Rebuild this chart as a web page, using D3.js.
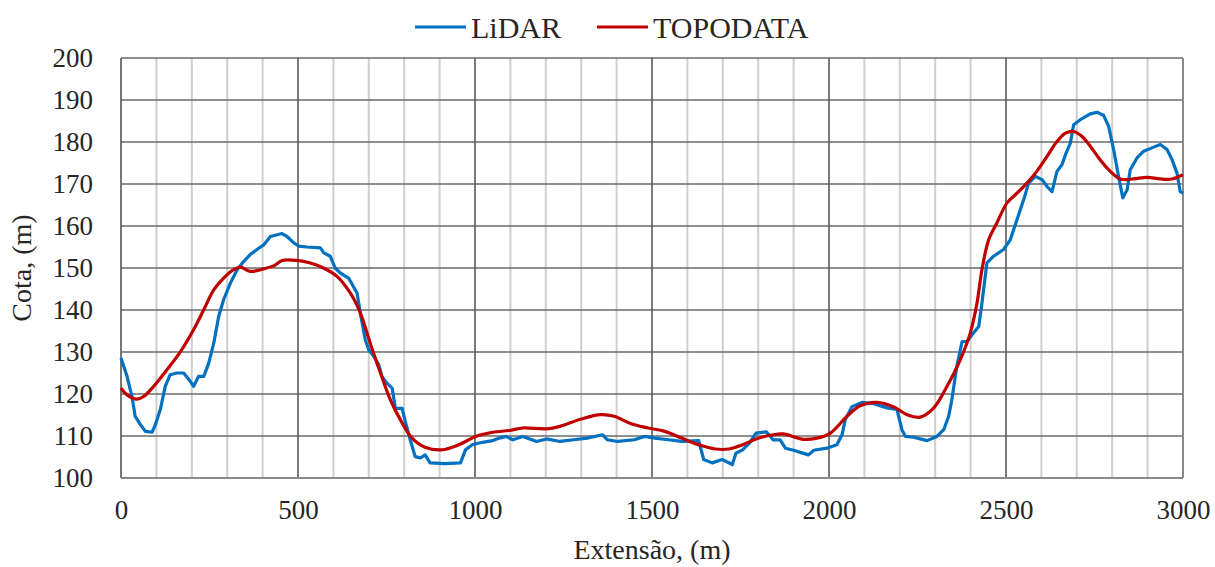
<!DOCTYPE html>
<html>
<head>
<meta charset="utf-8">
<script src="https://cdn.jsdelivr.net/npm/d3@7"></script>
<style>
  body { margin: 0; background: #fff; }
  text { font-family: "Liberation Serif", "Times New Roman", serif; fill: #262626; }
</style>
</head>
<body>
<div id="chart"></div>
<script>
// LiDAR profile, distance (m)
const lidarX = [0, 17, 31, 40, 55, 69, 88, 97, 111, 125, 139, 158, 177, 196, 205, 219, 234, 248, 262, 276,
  290, 309, 328, 347, 365, 384, 403, 422, 455, 469, 488, 502, 525, 563, 573, 591, 605, 620, 643, 667,
  676, 690, 700, 714, 728, 737, 751, 766, 775, 794, 803, 817, 831, 846, 859, 873, 916, 959, 973, 992,
  1021, 1050, 1069, 1088, 1107, 1135, 1174, 1202, 1240, 1279, 1317, 1360, 1374, 1403, 1450, 1479, 1508, 1546, 1584, 1632,
  1646, 1670, 1698, 1727, 1737, 1756, 1775, 1794, 1823, 1842, 1862, 1877, 1900, 1919, 1942, 1957, 1994, 2022, 2037, 2046,
  2065, 2093, 2126, 2164, 2192, 2206, 2216, 2239, 2277, 2305, 2324, 2338, 2347, 2361, 2376, 2390, 2404, 2423, 2432, 2446,
  2465, 2493, 2512, 2531, 2550, 2564, 2583, 2602, 2616, 2630, 2644, 2658, 2668, 2682, 2691, 2710, 2738, 2757, 2776, 2790,
  2804, 2818, 2830, 2842, 2851, 2870, 2889, 2912, 2936, 2955, 2969, 2983, 2992, 3000];
// LiDAR elevation (m)
const lidarY = [128.6, 124.2, 119.4, 114.7, 112.7, 111.1, 110.9, 112.7, 116.3, 121.8, 124.6, 125, 125, 123, 121.8, 124.2, 124.2, 127.4, 132.1, 138.5,
  142.5, 146.4, 149.6, 151.6, 153.2, 154.4, 155.5, 157.5, 158.2, 157.5, 156, 155.2, 155, 154.8, 153.6, 152.8, 150, 148.8, 147.6, 144,
  139.3, 132.9, 130.5, 129, 127, 124.2, 122.6, 121.4, 116.6, 116.6, 113.5, 109.1, 105.1, 104.8, 105.5, 103.6, 103.4, 103.6, 106.7, 107.9,
  108.5, 108.9, 109.5, 109.9, 109.1, 109.9, 108.7, 109.3, 108.7, 109.1, 109.5, 110.3, 109.1, 108.7, 109.1, 109.9, 109.5, 109.1, 108.7, 108.9,
  104.4, 103.6, 104.4, 103.2, 105.9, 106.7, 108.3, 110.7, 111, 109.1, 109.1, 107.1, 106.6, 106.1, 105.5, 106.6, 107.1, 107.9, 110.3, 113.9,
  117, 118, 117.7, 116.7, 116.3, 111.5, 109.9, 109.7, 108.9, 109.9, 111.5, 114.7, 118.6, 126.6, 132.5, 132.5, 134.1, 136.1, 141.6, 151.2,
  152.8, 154.4, 156.7, 161.5, 166.3, 170.2, 171.8, 171, 169.4, 168.2, 173, 174.6, 177, 179.8, 184.1, 185.3, 186.7, 187.1, 186.3, 183.7,
  178.2, 171.8, 166.7, 168.6, 173.4, 176.2, 177.8, 178.6, 179.4, 178.2, 175.8, 172.6, 168.2, 167.8];

// TOPODATA profile, distance (m)
const topoX = [0, 17, 45, 64, 92, 130, 168, 205, 234, 262, 290, 318, 337, 365, 403, 431, 455, 497, 535, 572,
  610, 648, 676, 704, 733, 761, 789, 821, 859, 906, 954, 1002, 1050, 1097, 1135, 1202, 1240, 1298, 1355, 1393,
  1441, 1489, 1536, 1584, 1632, 1679, 1717, 1756, 1794, 1842, 1870, 1928, 1966, 2004, 2051, 2088, 2136, 2183, 2220, 2258,
  2296, 2333, 2371, 2399, 2418, 2432, 2451, 2474, 2503, 2531, 2559, 2587, 2616, 2644, 2668, 2691, 2715, 2738, 2762, 2790,
  2823, 2860, 2898, 2936, 2969, 3000];
// TOPODATA elevation (m)
const topoY = [121.4, 119.8, 118.8, 119.4, 121.8, 125.8, 130.1, 135.3, 140.1, 144.8, 147.6, 149.6, 150.2, 149.2, 149.8, 150.5, 151.8, 151.8, 151.2, 150,
  148, 144, 139.3, 132.1, 125, 118.6, 113.9, 109.6, 107.3, 106.7, 107.9, 109.9, 110.9, 111.3, 111.9, 111.7, 112.3, 114, 115.1, 114.7,
  112.9, 111.9, 111.1, 109.5, 107.9, 106.9, 106.9, 107.9, 109.3, 110.3, 110.5, 109.2, 109.5, 110.7, 114.7, 117.2, 118, 116.9, 115.1, 114.5,
  116.7, 121.8, 128.2, 134.5, 141.6, 149.6, 156.7, 160.7, 165.5, 167.8, 170.2, 173, 176.6, 180.1, 182.1, 182.5, 181.3, 179, 176.2, 173.4,
  171.2, 171.2, 171.6, 171.2, 171.2, 172.2];

const xTicks = [0, 500, 1000, 1500, 2000, 2500, 3000];
const yTicks = [100, 110, 120, 130, 140, 150, 160, 170, 180, 190, 200];
const seriesNames = ["LiDAR", "TOPODATA"];

const blue = "#0070C0";
const red = "#C00000";

const W = 1215, H = 567;
const margin = { top: 58, left: 121, right: 32, bottom: 89 };
const width = W - margin.left - margin.right,
  height = H - margin.top - margin.bottom;

const svg = d3.select("#chart").append("svg").attr("width", W).attr("height", H);
const g = svg.append("g").attr("transform", `translate(${margin.left},${margin.top})`);

const xScale = d3.scaleLinear().domain([0, 3000]).range([0, width]);
const yScale = d3.scaleLinear().domain([100, 200]).range([height, 0]);

// grid: minor verticals every 100 m
g.append("g")
  .selectAll("line")
  .data(d3.range(100, 3000, 100).filter((d) => d % 500 !== 0))
  .join("line")
  .attr("x1", (d) => xScale(d))
  .attr("x2", (d) => xScale(d))
  .attr("y1", 0)
  .attr("y2", height)
  .attr("stroke", "#cfcfcf")
  .attr("stroke-width", 2);

// horizontal lines
g.append("g")
  .selectAll("line")
  .data(yTicks)
  .join("line")
  .attr("x1", 0)
  .attr("x2", width)
  .attr("y1", (d) => yScale(d))
  .attr("y2", (d) => yScale(d))
  .attr("stroke", "#6a6a6a")
  .attr("stroke-width", 1.6);

// major verticals
g.append("g")
  .selectAll("line")
  .data([500, 1000, 1500, 2000, 2500])
  .join("line")
  .attr("x1", (d) => xScale(d))
  .attr("x2", (d) => xScale(d))
  .attr("y1", 0)
  .attr("y2", height)
  .attr("stroke", "#5a5a5a")
  .attr("stroke-width", 1.6);

// frame
g.append("line").attr("x1", 0).attr("x2", 0).attr("y1", 0).attr("y2", height)
  .attr("stroke", "#555").attr("stroke-width", 1.6);
g.append("line").attr("x1", width).attr("x2", width).attr("y1", 0).attr("y2", height)
  .attr("stroke", "#8a8a8a").attr("stroke-width", 2);
g.append("line").attr("x1", 0).attr("x2", width).attr("y1", height).attr("y2", height)
  .attr("stroke", "#8a8a8a").attr("stroke-width", 2);

// axes (labels only)
const yAxis = d3.axisLeft(yScale).tickValues(yTicks).tickSize(0).tickPadding(28).tickFormat(d3.format("d"));
const xAxis = d3.axisBottom(xScale).tickValues(xTicks).tickSize(0).tickPadding(22).tickFormat(d3.format("d"));

const drawnY = g.append("g").attr("font-family", null).call(yAxis);
drawnY.select(".domain").remove();
drawnY.selectAll("text").attr("font-size", 27).style("font-family", "'Liberation Serif', serif").attr("fill", "#262626");

const drawnX = g.append("g").attr("transform", `translate(0,${height})`).call(xAxis);
drawnX.select(".domain").remove();
drawnX.selectAll("text").attr("font-size", 27).style("font-family", "'Liberation Serif', serif").attr("fill", "#262626");

// axis titles
svg.append("text")
  .attr("transform", `translate(31, ${margin.top + height / 2}) rotate(-90)`)
  .attr("text-anchor", "middle")
  .attr("font-size", 28)
  .text("Cota, (m)");

svg.append("text")
  .attr("x", 652)
  .attr("y", 559)
  .attr("text-anchor", "middle")
  .attr("font-size", 28)
  .text("Extensão, (m)");

// lines
const lidarData = lidarX.map((x, i) => ({ x, y: lidarY[i] }));
const topoData = topoX.map((x, i) => ({ x, y: topoY[i] }));

const lidarLine = d3.line().x((d) => xScale(d.x)).y((d) => yScale(d.y));
const topoLine = d3.line().x((d) => xScale(d.x)).y((d) => yScale(d.y)).curve(d3.curveCatmullRom.alpha(0.5));

g.append("path").datum(lidarData).attr("d", lidarLine)
  .attr("fill", "none").attr("stroke", blue).attr("stroke-width", 3.2).attr("stroke-linejoin", "round");
g.append("path").datum(topoData).attr("d", topoLine)
  .attr("fill", "none").attr("stroke", red).attr("stroke-width", 3.2).attr("stroke-linejoin", "round");

// legend
const legend = svg.append("g");
const legendItems = [
  { name: seriesNames[0], color: blue, x: 415 },
  { name: seriesNames[1], color: red, x: 597 },
];
legendItems.forEach((it) => {
  const lg = legend.append("g").attr("transform", `translate(${it.x}, 27)`);
  lg.append("line").attr("x1", 0).attr("x2", 51).attr("y1", 0).attr("y2", 0)
    .attr("stroke", it.color).attr("stroke-width", 3);
  lg.append("text").attr("x", 56).attr("y", 11).attr("font-size", 30).text(it.name);
});
</script>
</body>
</html>
